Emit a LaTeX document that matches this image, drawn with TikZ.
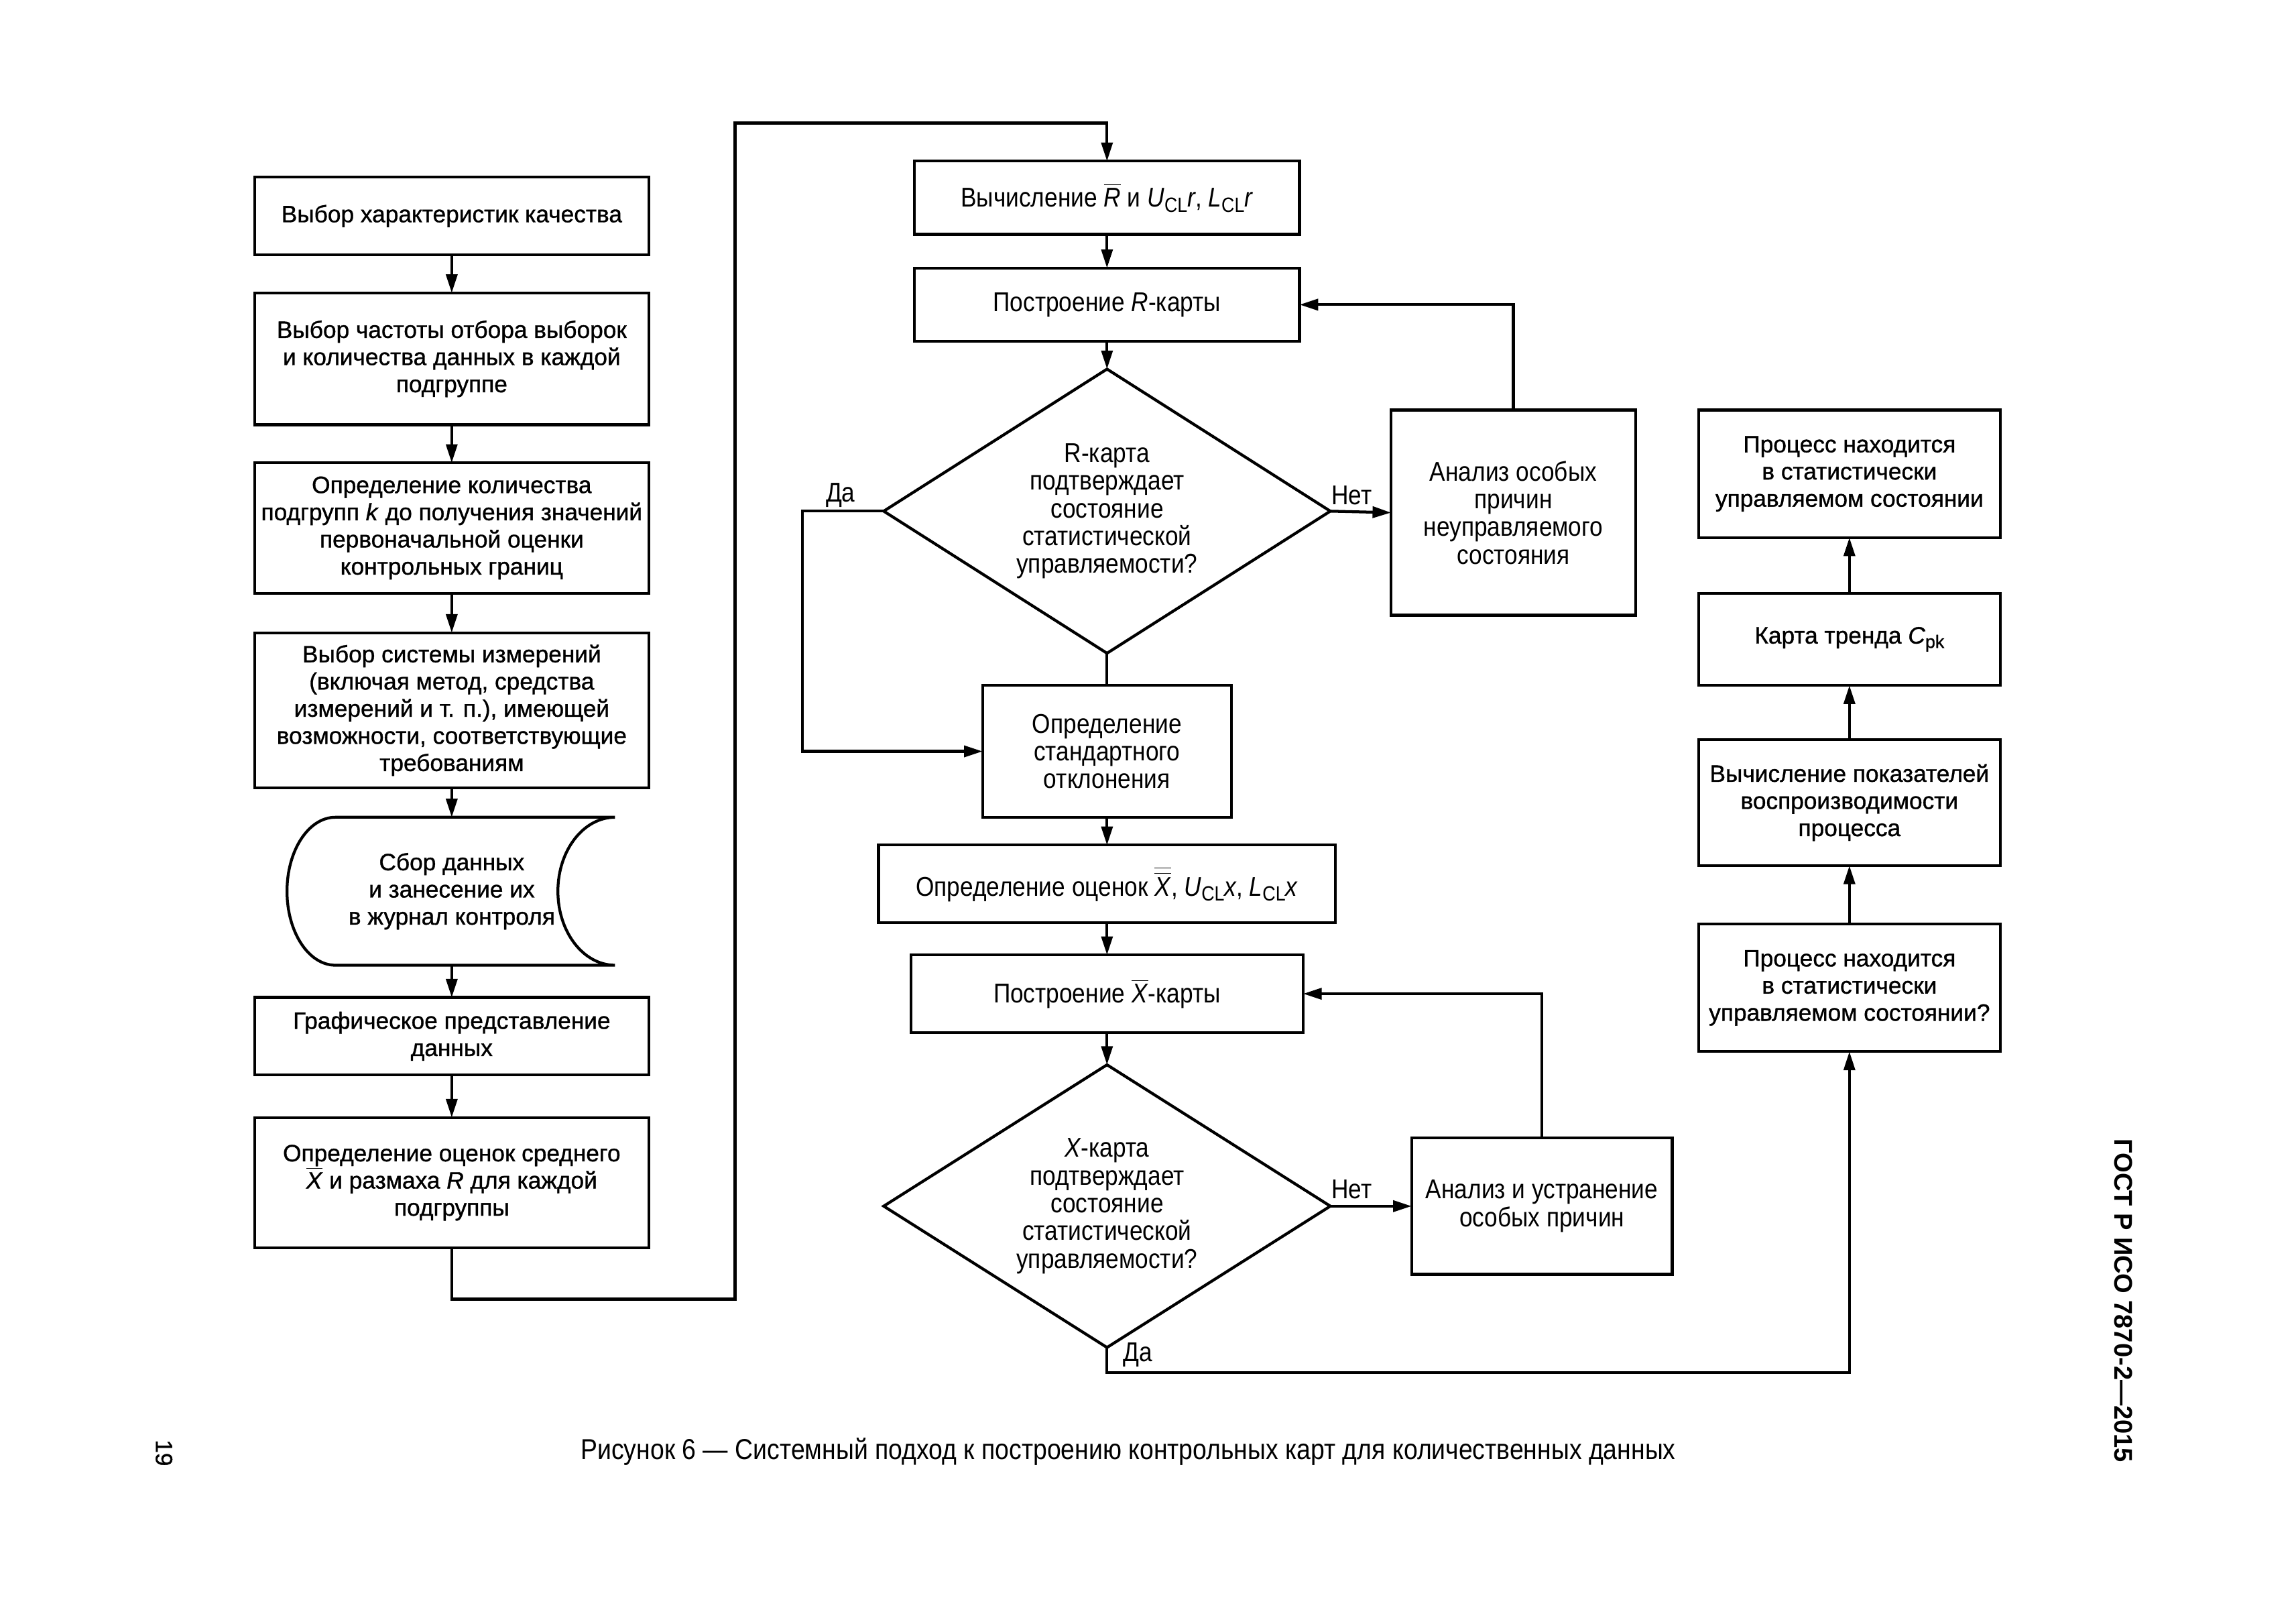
\documentclass[tikz,border=0pt]{standalone}
\usepackage{fontspec}
\setmainfont{Liberation Sans}
\newfontfamily\nrw[FakeStretch=0.87]{Liberation Sans}
\newfontfamily\hvy[FakeBold=1.0]{Liberation Sans}
\usetikzlibrary{arrows.meta,shapes.geometric,calc}
\def\u{0.18941mm}
\newcommand\lft{\hvy\fontsize{8.7}{10}\selectfont}
\newcommand\mdf{\nrw\fontsize{10}{10.2}\selectfont}
\newcommand\capf{\nrw\fontsize{10.6}{12}\selectfont}
\newcommand\ovl[1]{$\overline{\mbox{#1}}$}
\newcommand\ovvl[1]{$\overline{\overline{\mbox{#1}}}$}
\newcommand\msub[1]{\raisebox{-0.35ex}{\fontsize{7.6}{8}\selectfont #1}}
\newcommand\lsub[1]{\raisebox{-0.35ex}{\fontsize{6.6}{7}\selectfont #1}}
\begin{document}
\begin{tikzpicture}[x=0.18941mm,y=-0.18941mm,
  lbox/.style={draw, line width=1.05pt, inner sep=0pt, outer sep=0pt, align=center, font=\lft},
  mbox/.style={lbox, font=\mdf},
  dia/.style={draw, diamond, line width=1.05pt, inner sep=0pt, outer sep=0pt},
  arr/.style={line width=1.05pt, -{Triangle[length=2.4mm,width=1.45mm]}},
  ln/.style={line width=1.05pt},
  lbl/.style={font=\mdf, inner sep=0pt},
]
\fill[white] (0,0) rectangle (1568,1108.5);
\useasboundingbox (0,0) rectangle (1568,1108.5);

% left column
\node[lbox, minimum width={269*\u}, minimum height={53*\u}] (B1) at (308.5,147.5) {Выбор характеристик качества};
\node[lbox, minimum width={269*\u}, minimum height={90*\u}] (B2) at (308.5,245) {Выбор частоты отбора выборок\\и количества данных в каждой\\подгруппе};
\node[lbox, minimum width={269*\u}, minimum height={89*\u}] (B3) at (308.5,360.5) {Определение количества\\подгрупп \textit{k} до получения значений\\первоначальной оценки\\контрольных границ};
\node[lbox, minimum width={269*\u}, minimum height={106*\u}] (B4) at (308.5,485) {Выбор системы измерений\\(включая метод, средства\\измерений и т. п.), имеющей\\возможности, соответствующие\\требованиям};
\node[inner sep=0pt, outer sep=0pt, minimum width={223*\u}, minimum height={101*\u}, align=center, font=\lft] (data) at (308.5,608.5) {Сбор данных\\и занесение их\\в журнал контроля};
\draw[ln] (229,558) -- (420,558) .. controls (398.5,558) and (381,580.6) .. (381,608.5) .. controls (381,636.4) and (398.5,659) .. (420,659) -- (229,659) .. controls (210.8,659) and (196,636.4) .. (196,608.5) .. controls (196,580.6) and (210.8,558) .. (229,558) -- cycle;
\node[lbox, minimum width={269*\u}, minimum height={53*\u}] (B6) at (308.5,707.5) {Графическое представление\\данных};
\node[lbox, minimum width={269*\u}, minimum height={89*\u}] (B7) at (308.5,807.5) {Определение оценок среднего\\\ovl{\textit{X}} и размаха \textit{R} для каждой\\подгруппы};

% middle column
\node[mbox, minimum width={263*\u}, minimum height={50*\u}] (M1) at (756,135) {Вычисление \ovl{\textit{R}} и \textit{U}\msub{CL}\textit{r}, \textit{L}\msub{CL}\textit{r}};
\node[mbox, minimum width={263*\u}, minimum height={50*\u}] (M2) at (756,208) {Построение \textit{R}-карты};
\node[dia, minimum width={305*\u}, minimum height={194*\u}] (D1) at (756,349) {};
\node[font=\mdf, align=center, inner sep=0pt] (D1t) at (D1.center) {R-карта\\подтверждает\\состояние\\статистической\\управляемости?};
\node[mbox, minimum width={167*\u}, minimum height={140*\u}] (A1) at (1033.5,350) {Анализ особых\\причин\\неуправляемого\\состояния};
\node[mbox, minimum width={170*\u}, minimum height={90*\u}] (S) at (756,513) {Определение\\стандартного\\отклонения};
\node[mbox, minimum width={312*\u}, minimum height={53*\u}] (XE) at (756,603.5) {Определение оценок \ovvl{\textit{X}}, \textit{U}\msub{CL}\textit{x}, \textit{L}\msub{CL}\textit{x}};
\node[mbox, minimum width={268*\u}, minimum height={53*\u}] (XC) at (756,678.5) {Построение \ovl{\textit{X}}-карты};
\node[dia, minimum width={305*\u}, minimum height={193*\u}] (D2) at (756,823.5) {};
\node[font=\mdf, align=center, inner sep=0pt] (D2t) at (D2.center) {\textit{X}-карта\\подтверждает\\состояние\\статистической\\управляемости?};
\node[mbox, minimum width={178*\u}, minimum height={93*\u}] (A2) at (1053,823.5) {Анализ и устранение\\особых причин};

% right column
\node[lbox, minimum width={206*\u}, minimum height={87*\u}] (R1) at (1263,323.5) {Процесс находится\\в статистически\\управляемом состоянии};
\node[lbox, minimum width={206*\u}, minimum height={63*\u}] (R2) at (1263,436.5) {Карта тренда \textit{C}\lsub{pk}};
\node[lbox, minimum width={206*\u}, minimum height={86*\u}] (R3) at (1263,548) {Вычисление показателей\\воспроизводимости\\процесса};
\node[lbox, minimum width={206*\u}, minimum height={87*\u}] (R4) at (1263,674.5) {Процесс находится\\в статистически\\управляемом состоянии?};

% labels
\node[lbl] (yes1) at (574,338) {Да};
\node[lbl] (no1) at (923,338) {Нет};
\node[lbl] (no2) at (923,812) {Нет};
\node[lbl] (yes2) at (777,925) {Да};

% connectors
\draw[arr] (B1) -- (B2);
\draw[arr] (B2) -- (B3);
\draw[arr] (B3) -- (B4);
\draw[arr] (B4) -- (data.north);
\draw[arr] (data.south) -- (B6);
\draw[arr] (B6) -- (B7);
\coordinate (lpA) at (502,887);
\coordinate (lpB) at (502,84);
\draw[arr] (B7.south) |- (lpA) -- (lpB) -| (M1.north);
\draw[arr] (M1) -- (M2);
\draw[arr] (M2) -- (D1.north);
\draw[arr] (D1.east) -- (A1.west);
\draw[arr] (A1.north) |- (M2.east);
\coordinate (yl) at (548,349);
\draw[arr] (D1.west) -- (yl) |- (S.west);
\draw[ln] (D1.south) -- (S.north);
\draw[arr] (S) -- (XE);
\draw[arr] (XE) -- (XC);
\draw[arr] (XC) -- (D2.north);
\draw[arr] (D2.east) -- (A2.west);
\draw[arr] (A2.north) |- (XC.east);
\coordinate (yb) at (756,937);
\draw[arr] (D2.south) -- (yb) -| (R4.south);
\draw[arr] (R4) -- (R3);
\draw[arr] (R3) -- (R2);
\draw[arr] (R2) -- (R1);

% caption and page texts
\node[font=\capf, inner sep=0pt] (cap) at (770.5,991) {Рисунок 6 — Системный подход к построению контрольных карт для количественных данных};
\node[font=\lft, rotate=-90, inner sep=0pt] (pg) at (112,992) {19};
\node[font=\fontsize{9.4}{11}\selectfont\bfseries, rotate=-90, inner sep=0pt] (gost) at (1450,888) {ГОСТ Р ИСО 7870-2—2015};
\end{tikzpicture}
\end{document}
